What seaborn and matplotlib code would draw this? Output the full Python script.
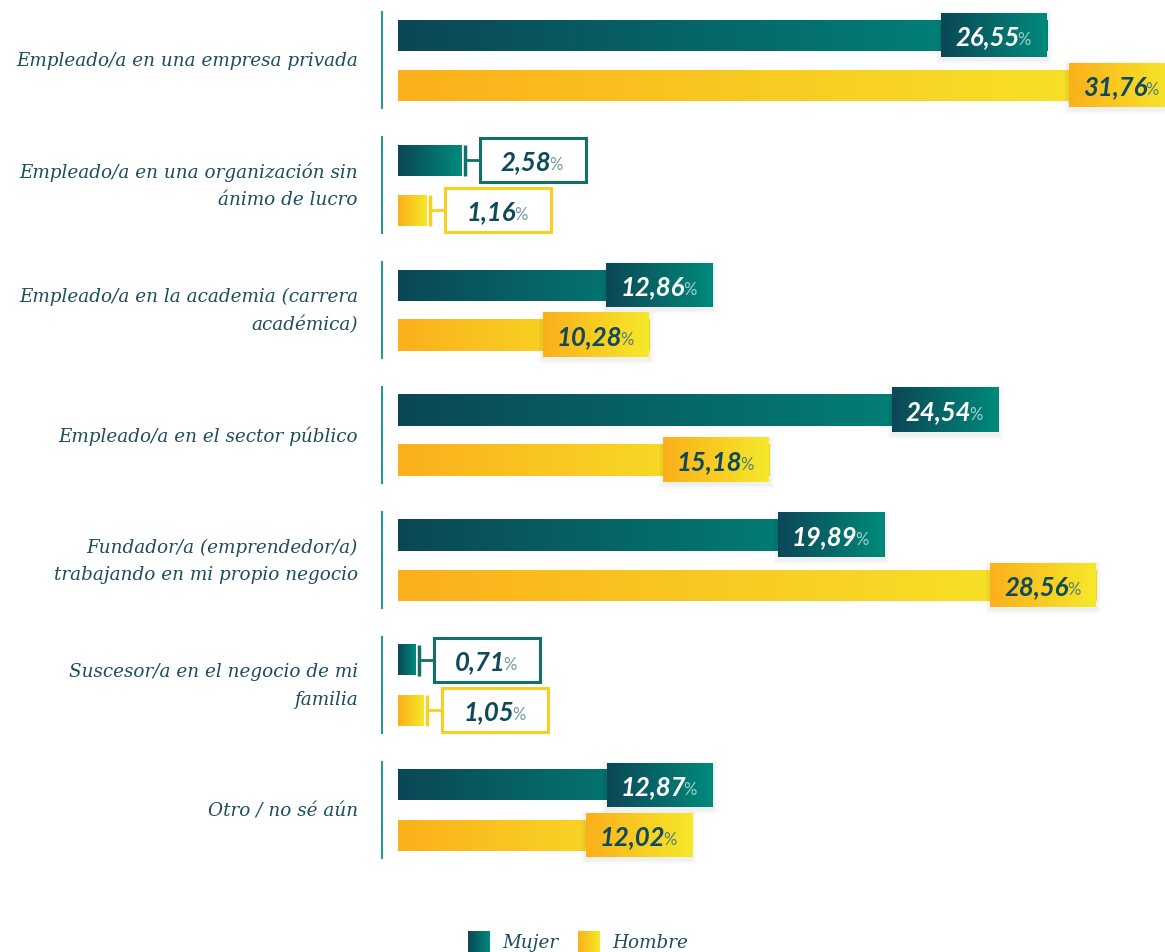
import numpy as np
import pandas as pd
import matplotlib
matplotlib.use("Agg")
import matplotlib.pyplot as plt
import seaborn as sns
from matplotlib.patches import Rectangle
from matplotlib.colors import LinearSegmentedColormap

# datos
categorias = ["Empleado/a en una empresa privada",
              "Empleado/a en una organización sin\nánimo de lucro",
              "Empleado/a en la academia (carrera\nacadémica)",
              "Empleado/a en el sector público",
              "Fundador/a (emprendedor/a)\ntrabajando en mi propio negocio",
              "Suscesor/a en el negocio de mi\nfamilia",
              "Otro / no sé aún"]
mujer = [26.55, 2.58, 12.86, 24.54, 19.89, 0.71, 12.87]
hombre = [31.76, 1.16, 10.28, 15.18, 28.56, 1.05, 12.02]
series = ["Mujer", "Hombre"]

df = pd.DataFrame({
    "categoria": categorias * 2,
    "genero": [series[0]] * len(mujer) + [series[1]] * len(hombre),
    "valor": mujer + hombre,
})

W, H = 1165, 953
PX = 24.45          # pixels per percent
UNIT = 125.0        # pixels per category
XMAX = 33

cmaps = {
    "Mujer": LinearSegmentedColormap.from_list("m", ["#0b4756", "#008a7c"]),
    "Hombre": LinearSegmentedColormap.from_list("h", ["#fbb01b", "#f6e82a"]),
}
edge_col = {"Mujer": "#11706a", "Hombre": "#f8d023"}
num_col = {"Mujer": "white", "Hombre": "#0e4a5a"}
pct_col = {"Mujer": "#9fd3cc", "Hombre": "#4f8079"}
label_col = "#1c4e5b"
grad = np.linspace(0, 1, 256).reshape(1, -1)

fig = plt.figure(figsize=(W / 100, H / 100), dpi=100)
ax = fig.add_axes([398 / W, 0, XMAX * PX / W, 1])

sns.barplot(data=df, y="categoria", x="valor", hue="genero", orient="h",
            palette={"Mujer": "#006b6b", "Hombre": "#f8cf22"},
            width=0.8, gap=0.38, legend=False, ax=ax)

top = -61 / UNIT
ylim = (top + H / UNIT, top)
ax.set_xlim(0, XMAX)
ax.set_ylim(*ylim)
ax.axis("off")

box_w = 106 / PX
box_h = 44 / UNIT
renderer = fig.canvas.get_renderer()


def put_value(xc, yc, value, ncol, pcol):
    txt = f"{value:.2f}".replace(".", ",")
    t1 = ax.text(xc, yc, txt, fontsize=18.5, family="Lato", weight="bold",
                 style="italic", color=ncol, ha="right", va="baseline", zorder=6)
    t2 = ax.text(xc, yc, "%", fontsize=12, family="Lato", color=pcol,
                 ha="left", va="baseline", zorder=6)
    w1 = t1.get_window_extent(renderer).width
    w2 = t2.get_window_extent(renderer).width
    shift = (w1 - w2) / 2 / PX
    base = yc + 9 / UNIT
    t1.set_x(xc + shift)
    t2.set_x(xc + shift - 2 / PX)
    t1.set_y(base)
    t2.set_y(base)


for gen, cont in zip(series, ax.containers):
    cmap = cmaps[gen]
    for patch in cont:
        x0 = patch.get_x()
        v = patch.get_width()
        y0 = patch.get_y()
        h = patch.get_height()
        yc = y0 + h / 2
        patch.set_visible(False)
        ax.imshow(grad, cmap=cmap, extent=[x0, x0 + v, y0 + h, y0],
                  aspect="auto", zorder=2, interpolation="bicubic")
        if v > box_w:
            bx = v - box_w
            for k in range(3):
                d = (k + 1) * 1.5
                ax.add_patch(Rectangle((bx - d / PX, yc - box_h / 2 - d / UNIT + 2 / UNIT),
                                       box_w + 2 * d / PX, box_h + 2 * d / UNIT,
                                       facecolor="black", alpha=0.018,
                                       edgecolor="none", zorder=3))
            ax.imshow(grad, cmap=cmap,
                      extent=[bx, v, yc + box_h / 2, yc - box_h / 2],
                      aspect="auto", zorder=4, interpolation="bicubic")
            put_value(bx + box_w / 2, yc, v, num_col[gen], pct_col[gen])
        else:
            bk = v + 3.5 / PX
            ax.plot([bk, bk], [y0, y0 + h], color=edge_col[gen], lw=2.5,
                    solid_capstyle="butt", zorder=3)
            bx = bk + 15 / PX
            ax.plot([bk, bx], [yc, yc], color=edge_col[gen], lw=2,
                    solid_capstyle="butt", zorder=3)
            ax.add_patch(Rectangle((bx, yc - box_h / 2), box_w, box_h,
                                   facecolor="white", edgecolor=edge_col[gen],
                                   lw=2.2, zorder=4))
            put_value(bx + box_w / 2, yc, v, "#0e4a5a", "#6c9a9a")

ax.set_xlim(0, XMAX)
ax.set_ylim(*ylim)

# etiquetas de categoria y lineas verticales
for i, cat in enumerate(categorias):
    ax.text((358 - 398) / PX, i, cat, ha="right", va="center",
            fontsize=13.2, family="DejaVu Serif", style="italic",
            color=label_col, linespacing=1.65, clip_on=False)
    ax.plot([(382 - 398) / PX] * 2, [i - 48 / UNIT, i + 48 / UNIT],
            color="#2a9a8c", lw=1.5, clip_on=False)

# leyenda
for gen, lx, tx in [("Mujer", 468, 502), ("Hombre", 578, 612)]:
    lax = fig.add_axes([lx / W, 0, 22 / W, 21 / H])
    lax.imshow(grad, cmap=cmaps[gen], aspect="auto", extent=[0, 1, 0, 1])
    lax.axis("off")
    fig.text(tx / W, 10 / H, gen, fontsize=13.2, family="DejaVu Serif",
             style="italic", color=label_col, va="center", ha="left")

fig.savefig("out.png", dpi=100)
